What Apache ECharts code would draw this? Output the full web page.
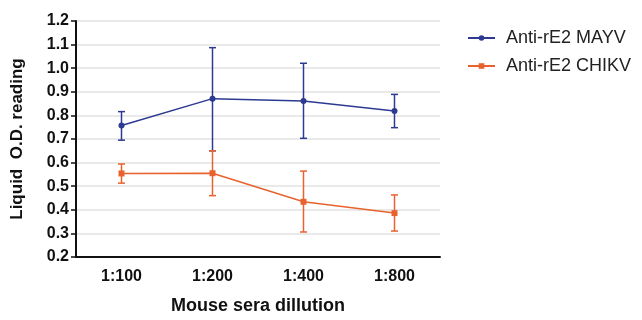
<!DOCTYPE html>
<html><head><meta charset="utf-8">
<script src="https://cdn.jsdelivr.net/npm/echarts@6/dist/echarts.min.js"></script>
<style>html,body{margin:0;padding:0;background:#fff}#c{width:642px;height:320px}</style>
</head><body><div id="c"></div>
<script>
var categories = ['1:100', '1:200', '1:400', '1:800'];
var mayvMean = [0.757, 0.871, 0.861, 0.819];
var mayvLow  = [0.695, 0.650, 0.703, 0.748];
var mayvHigh = [0.816, 1.087, 1.021, 0.889];
var chikvMean = [0.554, 0.555, 0.434, 0.386];
var chikvLow  = [0.513, 0.460, 0.306, 0.310];
var chikvHigh = [0.594, 0.650, 0.564, 0.463];
var yTicks = [0.2, 0.3, 0.4, 0.5, 0.6, 0.7, 0.8, 0.9, 1.0, 1.1, 1.2];

var BLUE = '#2d3a92', ORANGE = '#e8622e';
var FONT = 'Liberation Sans, Arial, sans-serif';

function errData(low, high) {
  return categories.map(function (c, i) { return [i, low[i], high[i]]; });
}
function errSeries(name, low, high, color) {
  return {
    type: 'custom', name: name + ' err', silent: true, z: 3,
    data: errData(low, high),
    encode: { x: 0, y: [1, 2] },
    renderItem: function (params, api) {
      var x = api.value(0);
      var lo = api.coord([x, api.value(1)]);
      var hi = api.coord([x, api.value(2)]);
      var hw = 3.5;
      var st = { stroke: color, lineWidth: 1.5 };
      return { type: 'group', children: [
        { type: 'line', shape: { x1: lo[0], y1: lo[1], x2: hi[0], y2: hi[1] }, style: st },
        { type: 'line', shape: { x1: lo[0] - hw, y1: lo[1], x2: lo[0] + hw, y2: lo[1] }, style: st },
        { type: 'line', shape: { x1: hi[0] - hw, y1: hi[1], x2: hi[0] + hw, y2: hi[1] }, style: st }
      ]};
    }
  };
}

var chart = echarts.init(document.getElementById('c'));
chart.setOption({
  backgroundColor: '#fff',
  animation: false,
  textStyle: { fontFamily: FONT },
  grid: { left: 76, right: 202, top: 21, bottom: 57 },
  legend: {
    left: 462, top: 24, orient: 'vertical', itemWidth: 27, itemHeight: 7, itemGap: 10,
    data: ['Anti-rE2 MAYV', 'Anti-rE2 CHIKV'],
    textStyle: { fontSize: 18, color: '#222', fontFamily: FONT, padding: [0, 0, 0, 6] }
  },
  xAxis: {
    type: 'category', data: categories, boundaryGap: true,
    name: 'Mouse sera dillution', nameLocation: 'middle', nameGap: 40,
    nameTextStyle: { fontSize: 18, fontWeight: 'bold', color: '#111', fontFamily: FONT },
    axisLine: { lineStyle: { color: '#111', width: 2 } },
    axisTick: { alignWithLabel: true, length: 5, lineStyle: { color: '#111', width: 1.5 } },
    axisLabel: { fontSize: 16, fontWeight: 'bold', color: '#111', margin: 12, fontFamily: FONT },
    splitLine: { show: false }
  },
  yAxis: {
    type: 'value', min: yTicks[0], max: yTicks[yTicks.length - 1], interval: 0.1,
    name: 'Liquid  O.D. reading', nameLocation: 'middle', nameGap: 50,
    nameTextStyle: { fontSize: 17, fontWeight: 'bold', color: '#111', fontFamily: FONT },
    axisLine: { show: true, lineStyle: { color: '#111', width: 2 } },
    axisTick: { show: true, length: 5, lineStyle: { color: '#111', width: 1.5 } },
    axisLabel: { fontSize: 16, fontWeight: 'bold', color: '#111', margin: 7, fontFamily: FONT,
      formatter: function (v) { return v.toFixed(1); } },
    splitLine: { show: true, lineStyle: { color: '#e2e2e2', width: 1.5 } }
  },
  series: [
    errSeries('Anti-rE2 MAYV', mayvLow, mayvHigh, BLUE),
    errSeries('Anti-rE2 CHIKV', chikvLow, chikvHigh, ORANGE),
    { name: 'Anti-rE2 MAYV', type: 'line', data: mayvMean, symbol: 'circle', symbolSize: 6, z: 4,
      itemStyle: { color: BLUE }, lineStyle: { color: BLUE, width: 1.5 } },
    { name: 'Anti-rE2 CHIKV', type: 'line', data: chikvMean, symbol: 'rect', symbolSize: 6, z: 4,
      itemStyle: { color: ORANGE }, lineStyle: { color: ORANGE, width: 1.5 } }
  ]
});
</script></body></html>
